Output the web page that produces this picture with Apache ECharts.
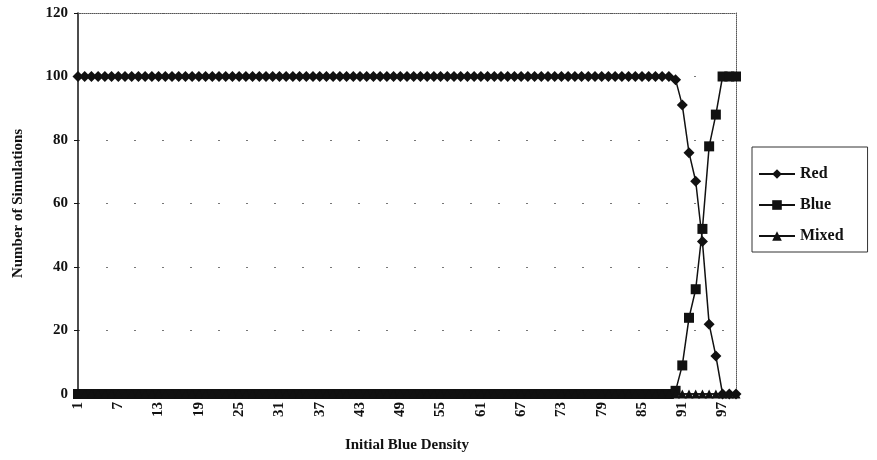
<!DOCTYPE html>
<html>
<head>
<meta charset="utf-8">
<script src="https://cdn.jsdelivr.net/npm/echarts@6/dist/echarts.min.js"></script>
<style>
  html, body { margin: 0; padding: 0; background: #fff; }
  #chart { width: 877px; height: 460px; }
</style>
</head>
<body>
<div id="chart"></div>
<script>
    // initial blue density 1..99
    const densities = []
    for (let i = 1; i <= 99; i++) densities.push(String(i))

    // runs 1..89 are all red, the switch happens between 90 and 97
    const redTail = [99, 91, 76, 67, 48, 22, 12, 0, 0, 0]
    const blueTail = [1, 9, 24, 33, 52, 78, 88, 100, 100, 100]
    const redValues = Array(89).fill(100).concat(redTail)
    const blueValues = Array(89).fill(0).concat(blueTail)
    const mixedValues = Array(99).fill(0)

    const yTicks = [0, 20, 40, 60, 80, 100, 120]

    const font = 'Liberation Serif'
    const ink = '#111'

    const mkSeries = (name, data, symbol, size) => ({
        name: name,
        type: 'line',
        data: data,
        symbol: symbol,
        symbolSize: size,
        showAllSymbol: true,
        lineStyle: { color: ink, width: 1.5 },
        itemStyle: { color: ink },
        animation: false
    })

    const chart = echarts.init(document.getElementById('chart'))
    chart.setOption({
        textStyle: { fontFamily: font, color: ink },
        grid: { left: 78, right: 141, top: 13, bottom: 66 },
        legend: {
            orient: 'vertical',
            left: 752,
            top: 147,
            itemWidth: 36,
            itemHeight: 12,
            itemGap: 15,
            padding: [19, 24, 8, 6],
            borderColor: '#333',
            borderWidth: 1,
            textStyle: { fontFamily: font, fontSize: 16, fontWeight: 'bold', color: ink },
            data: ['Red', 'Blue', 'Mixed']
        },
        xAxis: [{
            type: 'category',
            data: densities,
            boundaryGap: false,
            name: 'Initial Blue Density',
            nameLocation: 'middle',
            nameGap: 44,
            nameTextStyle: { fontFamily: font, fontSize: 15, fontWeight: 'bold', color: ink },
            axisLine: { lineStyle: { color: ink, width: 1.5 } },
            axisTick: { show: false },
            axisLabel: {
                interval: 5,
                rotate: 90,
                fontSize: 15,
                fontWeight: 'bold',
                color: ink,
                margin: 8
            }
        }, {
            type: 'category',
            data: densities,
            boundaryGap: false,
            position: 'top',
            axisLine: { onZero: false, lineStyle: { color: '#555', width: 1, type: 'dotted' } },
            axisTick: { show: false },
            axisLabel: { show: false }
        }],
        yAxis: [{
            type: 'value',
            min: yTicks[0],
            max: yTicks[yTicks.length - 1],
            interval: 20,
            name: 'Number of Simulations',
            nameLocation: 'middle',
            nameGap: 52,
            nameTextStyle: { fontFamily: font, fontSize: 15, fontWeight: 'bold', color: ink },
            axisLine: { show: true, lineStyle: { color: ink, width: 1.5 } },
            axisTick: { show: true, length: 4, lineStyle: { color: ink } },
            axisLabel: { fontSize: 15, fontWeight: 'bold', color: ink, margin: 10 },
            splitLine: { lineStyle: { color: '#777', width: 1, type: [2, 26] } }
        }, {
            type: 'value',
            min: 0,
            max: 120,
            position: 'right',
            axisLine: { show: true, onZero: false, lineStyle: { color: '#555', width: 1, type: 'dotted' } },
            axisTick: { show: false },
            axisLabel: { show: false },
            splitLine: { show: false }
        }],
        series: [
            mkSeries('Red', redValues, 'diamond', 11),
            mkSeries('Blue', blueValues, 'rect', 10),
            mkSeries('Mixed', mixedValues, 'triangle', 9)
        ]
    })
</script>
</body>
</html>
